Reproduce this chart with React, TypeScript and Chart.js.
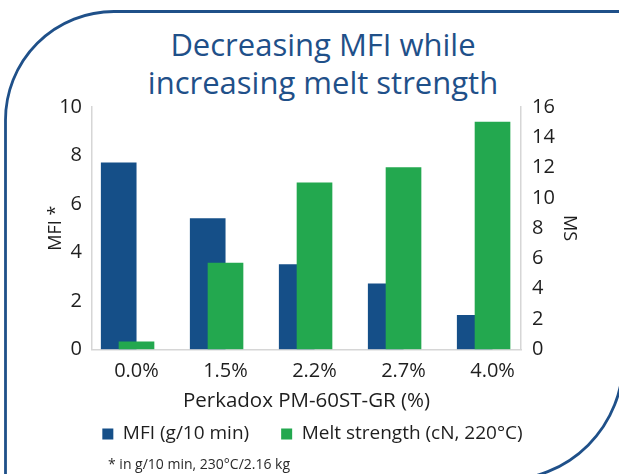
import React, { useEffect, useRef } from "react";
import { Chart, registerables } from "chart.js";

Chart.register(...registerables);

const CATEGORIES = ["0.0%", "1.5%", "2.2%", "2.7%", "4.0%"];
const MFI = [7.7, 5.4, 3.5, 2.7, 1.4];
const MELT_STRENGTH = [0.5, 5.7, 11, 12, 15];
const MFI_TICKS = [0, 2, 4, 6, 8, 10];
const MS_TICKS = [0, 2, 4, 6, 8, 10, 12, 14, 16];

const FONT = "'Open Sans', sans-serif";
const TEXT = "#1e1e1e";
const BLUE = "#154f88";
const GREEN = "#23a84f";
const FRAME = "#1f5089";
const AXIS_LINE = "#d6d6d6";
const OVERLAP_SHIFT = 0.2;

export default function App() {
  const ref = useRef<HTMLCanvasElement>(null);

  useEffect(() => {
    document.body.style.margin = "0";
    const tickFont = { family: FONT, size: 20 };
    const xTitleFont = { family: FONT, size: 20.5 };
    const yTitleFont = { family: FONT, size: 18 };
    const legendFont = { family: FONT, size: 19 };
    const chart = new Chart(ref.current!, {
      type: "bar",
      data: {
        datasets: [
          {
            label: "MFI (g/10 min)",
            data: MFI.map((v, i) => ({ x: i - OVERLAP_SHIFT, y: v })),
            backgroundColor: BLUE,
            yAxisID: "y",
            order: 2,
          },
          {
            label: "Melt strength (cN, 220°C)",
            data: MELT_STRENGTH.map((v, i) => ({ x: i, y: v })),
            backgroundColor: GREEN,
            yAxisID: "y2",
            order: 1,
          },
        ],
      },
      options: {
        animation: false,
        responsive: false,
        layout: { padding: { left: 41, right: 35, top: 0, bottom: 1.5 } },
        datasets: { bar: { grouped: false, barThickness: 35 } } as any,
        scales: {
          x: {
            type: "linear",
            bounds: "data",
            offset: false,
            min: -0.5,
            max: 4.32,
            afterBuildTicks: (s: any) => {
              s.ticks = CATEGORIES.map((_, i) => ({ value: i }));
            },
            afterFit: (s: any) => {
              s.height = 43.2;
            },
            ticks: {
              callback: (v: any) => CATEGORIES[v] ?? "",
              font: tickFont,
              color: TEXT,
              padding: 9.5,
              autoSkip: false,
              maxRotation: 0,
            },
            grid: { display: false, drawTicks: false, offset: false },
            border: { color: AXIS_LINE, width: 1.5 },
            title: {
              display: true,
              text: "Perkadox PM-60ST-GR (%)",
              font: xTitleFont,
              color: TEXT,
              padding: { top: 0, bottom: -20.8 },
            },
          },
          y: {
            position: "left",
            min: 0,
            max: 10,
            afterBuildTicks: (s: any) => {
              s.ticks = MFI_TICKS.map((v) => ({ value: v }));
            },
            afterFit: (s: any) => {
              s.width = 51;
            },
            ticks: { font: tickFont, color: TEXT, padding: 10 },
            grid: { display: false, drawTicks: false },
            border: { color: AXIS_LINE, width: 1.5 },
            title: { display: true, text: "MFI *", font: yTitleFont, color: TEXT },
          },
          y2: {
            position: "right",
            min: 0,
            max: 16,
            afterBuildTicks: (s: any) => {
              s.ticks = MS_TICKS.map((v) => ({ value: v }));
            },
            afterFit: (s: any) => {
              s.width = 63;
            },
            ticks: { font: tickFont, color: TEXT, padding: 11 },
            grid: { display: false, drawTicks: false },
            border: { color: AXIS_LINE, width: 1.5 },
            title: { display: true, text: "MS", font: yTitleFont, color: TEXT },
          },
        },
        plugins: {
          legend: {
            position: "bottom",
            labels: {
              boxWidth: 11,
              boxHeight: 11,
              font: legendFont,
              color: TEXT,
              padding: 32,
              sort: (a: any, b: any) => a.datasetIndex - b.datasetIndex,
            },
          },
          tooltip: { enabled: false },
        },
      },
    } as any);
    return () => chart.destroy();
  }, []);

  return (
    <div
      style={{
        position: "relative",
        width: 619,
        height: 474,
        overflow: "hidden",
        background: "#fff",
        fontFamily: FONT,
      }}
    >
      <svg
        width={619}
        height={474}
        style={{ position: "absolute", left: 0, top: 0 }}
      >
        <path
          d="M5.5 490 L5.5 120 A108.5 108.5 0 0 1 114 11.5 L640 11.5"
          fill="none"
          stroke={FRAME}
          strokeWidth={2.8}
        />
        <path
          d="M623 300 L623 361 A119 119 0 0 1 504 480 L400 480"
          fill="none"
          stroke={FRAME}
          strokeWidth={2.8}
        />
      </svg>
      <div
        style={{
          position: "absolute",
          left: 0,
          top: 25,
          width: 646,
          textAlign: "center",
          color: FRAME,
          fontSize: 31,
          lineHeight: "38px",
        }}
      >
        Decreasing MFI while
        <br />
        increasing melt strength
      </div>
      <canvas
        ref={ref}
        width={619}
        height={371}
        style={{ position: "absolute", left: 0, top: 84, display: "block" }}
      />
      <div
        style={{
          position: "absolute",
          left: 108,
          top: 457,
          fontSize: 14,
          lineHeight: "14px",
          color: "#2a2a2a",
          whiteSpace: "nowrap",
        }}
      >
        * in g/10 min, 230°C/2.16 kg
      </div>
    </div>
  );
}
